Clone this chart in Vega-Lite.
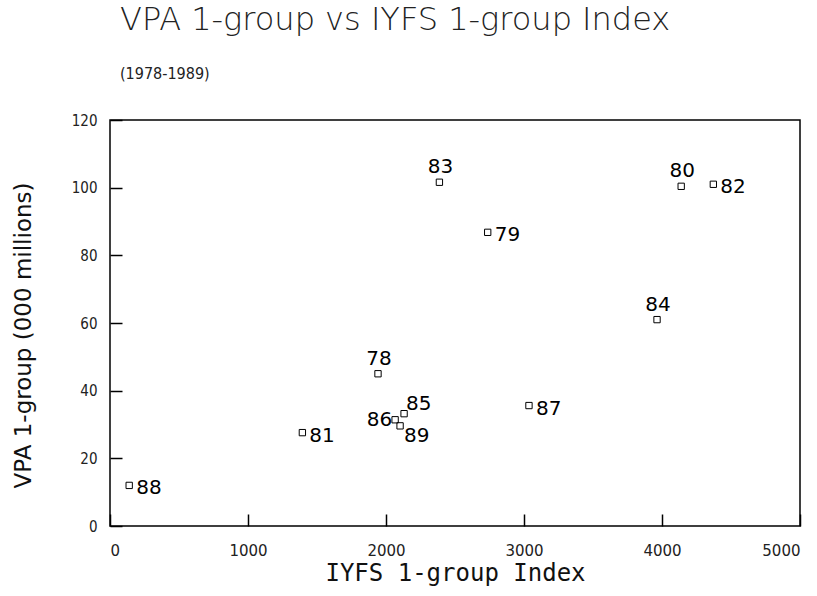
{
  "$schema": "https://vega.github.io/schema/vega-lite/v6.json",
  "autosize": {"type": "none"},
  "width": 690,
  "height": 406,
  "padding": {"left": 110, "top": 120, "right": 17, "bottom": 70},
  "background": "white",
  "title": {
    "text": "VPA 1-group vs IYFS 1-group Index",
    "subtitle": "(1978-1989)",
    "anchor": "start",
    "frame": "group",
    "offset": 30,
    "dx": 10,
    "font": "DejaVu Sans",
    "fontSize": 32,
    "fontWeight": 200,
    "color": "#222",
    "subtitleFont": "DejaVu Sans Condensed, DejaVu Sans",
    "subtitleFontSize": 16,
    "subtitleColor": "#222",
    "subtitlePadding": 29
  },
  "config": {
    "view": {"stroke": "black", "strokeWidth": 1.5},
    "axis": {
      "grid": false,
      "domain": false,
      "labelFont": "DejaVu Sans Condensed, DejaVu Sans",
      "labelFontSize": 15,
      "labelColor": "#222",
      "titleFont": "DejaVu Sans",
      "titleFontWeight": "normal",
      "titleColor": "#111",
      "ticks": true,
      "tickColor": "black",
      "tickWidth": 1.5,
      "tickSize": 12,
      "offset": -12
    }
  },
  "data": {
    "values": [
      {"iyfs": 1942, "vpa": 45, "label": "78"},
      {"iyfs": 2737, "vpa": 86.8, "label": "79"},
      {"iyfs": 4139, "vpa": 100.4, "label": "80"},
      {"iyfs": 1394, "vpa": 27.6, "label": "81"},
      {"iyfs": 4372, "vpa": 101, "label": "82"},
      {"iyfs": 2387, "vpa": 101.6, "label": "83"},
      {"iyfs": 3964, "vpa": 61, "label": "84"},
      {"iyfs": 2131, "vpa": 33.2, "label": "85"},
      {"iyfs": 2066, "vpa": 31.4, "label": "86"},
      {"iyfs": 3036, "vpa": 35.6, "label": "87"},
      {"iyfs": 139, "vpa": 12, "label": "88"},
      {"iyfs": 2102, "vpa": 29.6, "label": "89"}
    ]
  },
  "encoding": {
    "x": {
      "field": "iyfs", "type": "quantitative",
      "scale": {"domain": [0, 5000], "nice": false, "zero": true},
      "axis": {"title": "IYFS 1-group Index", "titleFont": "DejaVu Sans Mono", "titleFontSize": 24, "labelFont": "DejaVu Sans", "labelFontSize": 15, "values": [0, 1000, 2000, 3000, 4000, 5000], "format": "d", "labelPadding": 17, "titlePadding": 3}
    },
    "y": {
      "field": "vpa", "type": "quantitative",
      "scale": {"domain": [0, 120], "nice": false},
      "axis": {"title": "VPA 1-group (000 millions)", "titleFontSize": 23, "titleY": 215, "values": [0, 20, 40, 60, 80, 100, 120], "labelPadding": 13, "titlePadding": 36}
    }
  },
  "layer": [
    {
      "mark": {"type": "point", "shape": "square", "filled": false, "size": 40, "color": "black", "strokeWidth": 1, "opacity": 1}
    },
    {
      "transform": [{"filter": {"field": "label", "oneOf": ["88", "81", "87", "79", "82"]}}],
      "mark": {"type": "text", "align": "left", "baseline": "middle", "dx": 7, "dy": 3, "font": "DejaVu Sans", "fontSize": 20, "color": "black"},
      "encoding": {"text": {"field": "label"}}
    },
    {
      "transform": [{"filter": {"field": "label", "oneOf": ["78", "83", "80", "84"]}}],
      "mark": {"type": "text", "align": "center", "baseline": "bottom", "dy": -5, "dx": 1, "font": "DejaVu Sans", "fontSize": 20, "color": "black"},
      "encoding": {"text": {"field": "label"}}
    },
    {
      "transform": [{"filter": {"field": "label", "oneOf": ["85"]}}],
      "mark": {"type": "text", "align": "left", "baseline": "bottom", "dx": 2, "dy": 0, "font": "DejaVu Sans", "fontSize": 20, "color": "black"},
      "encoding": {"text": {"field": "label"}}
    },
    {
      "transform": [{"filter": {"field": "label", "oneOf": ["89"]}}],
      "mark": {"type": "text", "align": "left", "baseline": "top", "dx": 4, "dy": 0, "font": "DejaVu Sans", "fontSize": 20, "color": "black"},
      "encoding": {"text": {"field": "label"}}
    },
    {
      "transform": [{"filter": {"field": "label", "oneOf": ["86"]}}],
      "mark": {"type": "text", "align": "right", "baseline": "middle", "dx": -3, "dy": 0, "font": "DejaVu Sans", "fontSize": 20, "color": "black"},
      "encoding": {"text": {"field": "label"}}
    }
  ]
}
